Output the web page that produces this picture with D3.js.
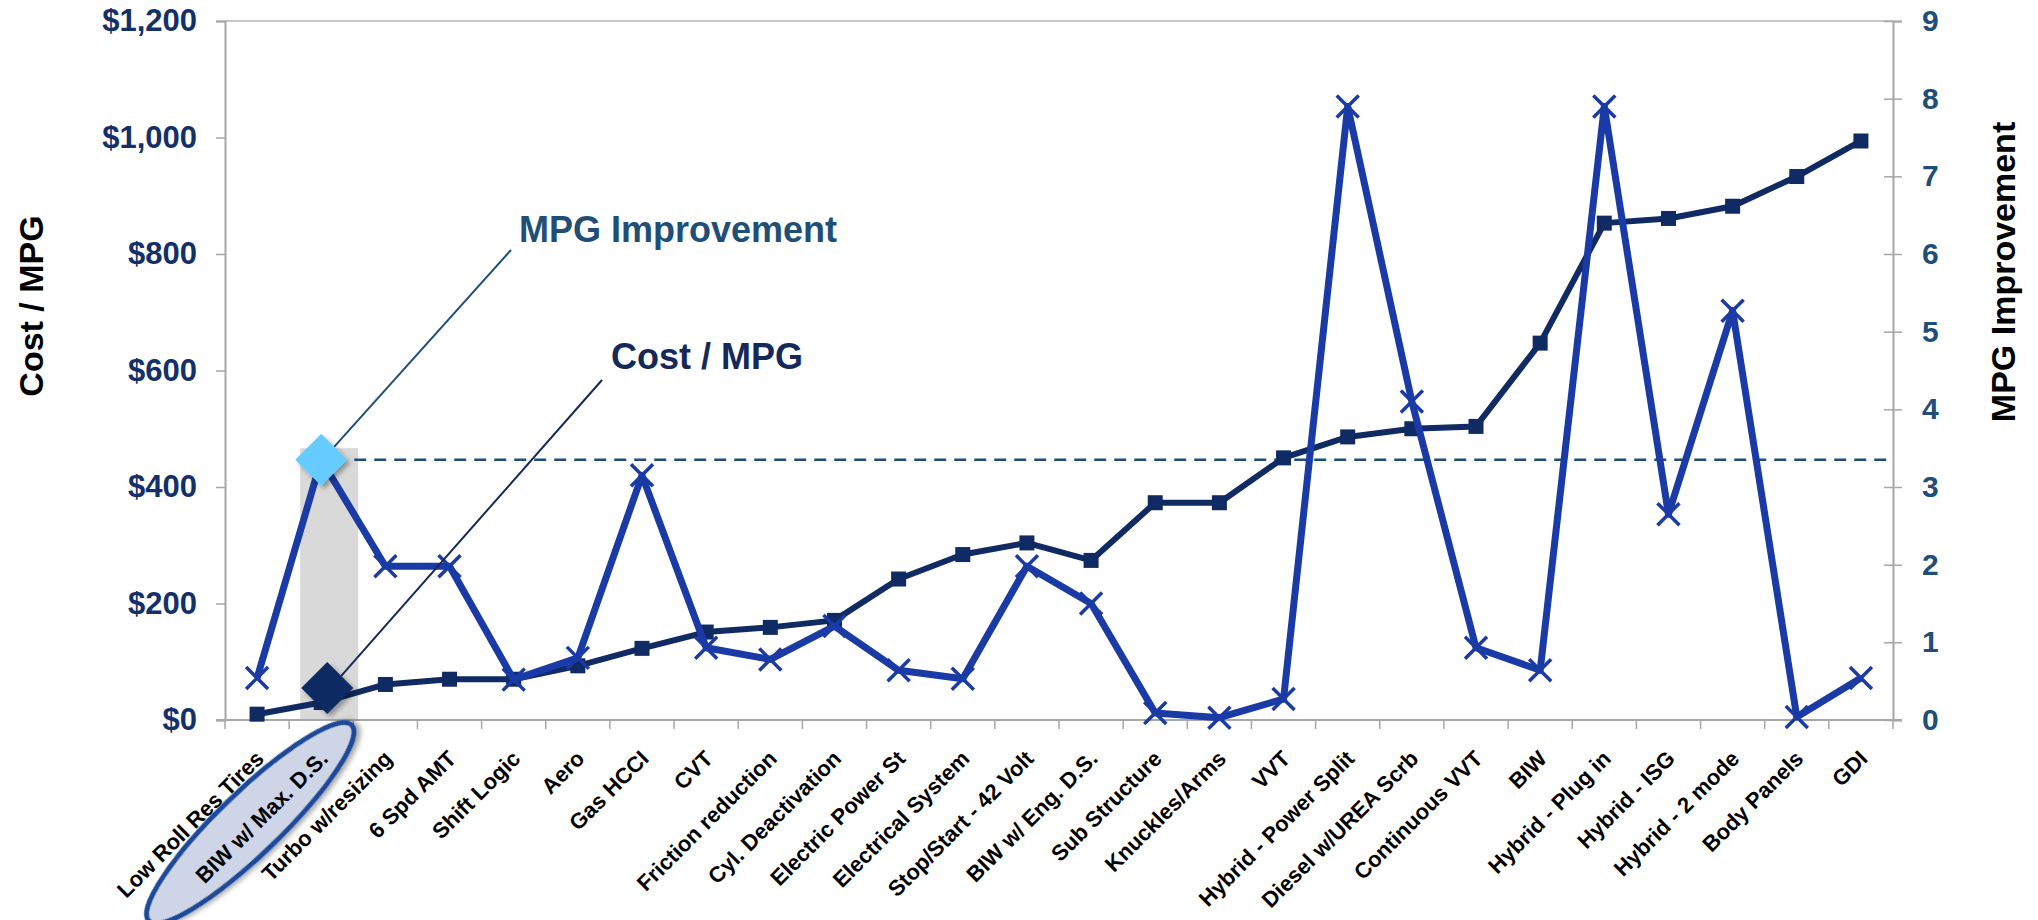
<!DOCTYPE html>
<html>
<head>
<meta charset="utf-8">
<script src="https://cdn.jsdelivr.net/npm/d3@7"></script>
<style>
  body { margin: 0; background: #fff; }
  svg { display: block; font-family: Arial, "Liberation Sans", sans-serif; font-weight: bold; }
</style>
</head>
<body>
<script>
// technologies, sorted by cost per mpg
const categories = [
  'Low Roll Res Tires', 'BIW w/ Max. D.S.', 'Turbo w/resizing', '6 Spd AMT', 'Shift Logic',
  'Aero', 'Gas HCCI', 'CVT', 'Friction reduction', 'Cyl. Deactivation',
  'Electric Power St', 'Electrical System', 'Stop/Start - 42 Volt', 'BIW w/ Eng. D.S.', 'Sub Structure',
  'Knuckles/Arms', 'VVT', 'Hybrid - Power Split', 'Diesel w/UREA Scrb', 'Continuous VVT',
  'BIW', 'Hybrid - Plug in', 'Hybrid - ISG', 'Hybrid - 2 mode', 'Body Panels', 'GDI',
];
const costPerMpg = [
  10, 30, 61, 70, 70, 93, 123, 151, 159, 171, 242, 284, 304,
  274, 373, 373, 450, 486, 500, 504, 647, 853, 861, 882, 933, 994,
];
const mpgImprovement = [
  0.54, 3.35, 1.98, 1.98, 0.52, 0.8, 3.15, 0.93, 0.78, 1.21, 0.64, 0.53, 1.98,
  1.5, 0.09, 0.03, 0.27, 7.9, 4.1, 0.93, 0.64, 7.9, 2.65, 5.27, 0.04, 0.54,
];
const costTicks = [0, 200, 400, 600, 800, 1000, 1200];
const mpgTicks = [0, 1, 2, 3, 4, 5, 6, 7, 8, 9];
const highlight = 'BIW w/ Max. D.S.';
const highlightCost = 55; // where the dark callout diamond sits

const width = 2038;
const height = 920;
const margin = { top: 21, right: 145, bottom: 200, left: 225 };

const svg = d3.select('body').append('svg')
  .attr('width', width)
  .attr('height', height);

const defs = svg.append('defs');
const shadow = defs.append('filter').attr('id', 'shadow')
  .attr('x', '-50%').attr('y', '-50%').attr('width', '200%').attr('height', '200%');
shadow.append('feDropShadow')
  .attr('dx', 3).attr('dy', 3).attr('stdDeviation', 2.5)
  .attr('flood-color', '#000').attr('flood-opacity', 0.35);

const x = d3.scaleBand()
  .domain(categories)
  .range([margin.left, width - margin.right]);

const yCost = d3.scaleLinear()
  .domain([0, 1200])
  .range([height - margin.bottom, margin.top]);

const yMpg = d3.scaleLinear()
  .domain([0, 9])
  .range([height - margin.bottom, margin.top]);

const cx = d => x(d) + x.bandwidth() / 2;
const x0 = margin.left;
const x1 = width - margin.right;
const yBottom = height - margin.bottom;

// grey highlight column
svg.append('rect')
  .attr('x', cx(highlight) - 21)
  .attr('y', yMpg(3.5))
  .attr('width', 58)
  .attr('height', yBottom - yMpg(3.5))
  .attr('fill', '#d9d9d9');

// frame: top line
svg.append('line')
  .attr('x1', x0).attr('x2', x1)
  .attr('y1', margin.top).attr('y2', margin.top)
  .attr('stroke', '#c6c6c6').attr('stroke-width', 2);

// left axis
svg.append('g')
  .attr('transform', `translate(${x0},0)`)
  .call(d3.axisLeft(yCost).tickValues(costTicks).tickSize(9).tickPadding(19)
    .tickFormat(d => `$${d3.format(',')(d)}`))
  .call(g => g.select('.domain').attr('stroke', '#a6a6a6').attr('stroke-width', 2))
  .call(g => g.selectAll('.tick line').attr('stroke', '#a6a6a6').attr('stroke-width', 1.5))
  .call(g => g.selectAll('.tick text')
    .attr('fill', '#13306b')
    .attr('font-size', 31)
    .attr('font-family', 'Arial, "Liberation Sans", sans-serif')
    .attr('font-weight', 'bold'));

// right axis
svg.append('g')
  .attr('transform', `translate(${x1},0)`)
  .call(d3.axisRight(yMpg).tickValues(mpgTicks).tickSize(9).tickPadding(20))
  .call(g => g.select('.domain').attr('stroke', '#a6a6a6').attr('stroke-width', 2))
  .call(g => g.selectAll('.tick line').attr('x1', -9).attr('stroke', '#a6a6a6').attr('stroke-width', 1.5))
  .call(g => g.selectAll('.tick text')
    .attr('fill', '#1f4e79')
    .attr('font-size', 30)
    .attr('font-family', 'Arial, "Liberation Sans", sans-serif')
    .attr('font-weight', 'bold'));

// bottom axis with ticks between categories
svg.append('line')
  .attr('x1', x0 - 9).attr('x2', x1 + 9)
  .attr('y1', yBottom).attr('y2', yBottom)
  .attr('stroke', '#a6a6a6').attr('stroke-width', 2);
svg.append('g')
  .selectAll('line')
  .data(categories.concat(['end']))
  .join('line')
  .attr('x1', (d, i) => (i < categories.length ? x(d) : x1))
  .attr('x2', (d, i) => (i < categories.length ? x(d) : x1))
  .attr('y1', yBottom)
  .attr('y2', yBottom + 9)
  .attr('stroke', '#a6a6a6')
  .attr('stroke-width', 1.5);

// ellipse round the highlighted label
svg.append('ellipse')
  .attr('transform', `translate(${cx(highlight) - 71},823) rotate(-44)`)
  .attr('rx', 141)
  .attr('ry', 31)
  .attr('fill', '#cdd5e6')
  .attr('stroke', '#1f4a9a')
  .attr('stroke-width', 5)
  .attr('filter', 'url(#shadow)');

// category labels
svg.append('g')
  .selectAll('text')
  .data(categories)
  .join('text')
  .attr('transform', d => `translate(${cx(d) + 8},760) rotate(-45)`)
  .attr('text-anchor', 'end')
  .attr('font-size', 22)
  .attr('fill', '#000')
  .text(d => d);

// axis titles
svg.append('text')
  .attr('transform', 'translate(43,306) rotate(-90)')
  .attr('text-anchor', 'middle')
  .attr('font-size', 34)
  .attr('fill', '#000')
  .text('Cost / MPG');

svg.append('text')
  .attr('transform', 'translate(2015,272) rotate(-90)')
  .attr('text-anchor', 'middle')
  .attr('font-size', 34)
  .attr('fill', '#000')
  .text('MPG Improvement');

// dashed reference at the highlighted mpg
const refMpg = mpgImprovement[categories.indexOf(highlight)];
svg.append('line')
  .attr('x1', cx(highlight) + 33)
  .attr('x2', x1)
  .attr('y1', yMpg(refMpg))
  .attr('y2', yMpg(refMpg))
  .attr('stroke', '#1f4e79')
  .attr('stroke-width', 2.5)
  .attr('stroke-dasharray', '12,8');

// cost / mpg line
svg.append('path')
  .datum(costPerMpg)
  .attr('fill', 'none')
  .attr('stroke', '#102a63')
  .attr('stroke-width', 6)
  .attr('stroke-linejoin', 'round')
  .attr('d', d3.line().x((d, i) => cx(categories[i])).y(d => yCost(d)));

svg.append('g')
  .selectAll('rect')
  .data(costPerMpg)
  .join('rect')
  .attr('x', (d, i) => cx(categories[i]) - 7.5)
  .attr('y', d => yCost(d) - 7.5)
  .attr('width', 15)
  .attr('height', 15)
  .attr('fill', '#102a63');

// mpg improvement line
svg.append('path')
  .datum(mpgImprovement)
  .attr('fill', 'none')
  .attr('stroke', '#1a3aa6')
  .attr('stroke-width', 7)
  .attr('stroke-linejoin', 'round')
  .attr('d', d3.line().x((d, i) => cx(categories[i])).y(d => yMpg(d)));

svg.append('g')
  .selectAll('path')
  .data(mpgImprovement)
  .join('path')
  .attr('transform', (d, i) => `translate(${cx(categories[i])},${yMpg(d)})`)
  .attr('d', 'M-11,-11L11,11M-11,11L11,-11')
  .attr('stroke', '#1a3aa6')
  .attr('stroke-width', 3.5)
  .attr('fill', 'none');

// callouts
const mx = cx(highlight);
const my = yMpg(refMpg);
const dy = yCost(highlightCost);

svg.append('line')
  .attr('x1', mx + 12).attr('y1', my - 12)
  .attr('x2', 511).attr('y2', 250)
  .attr('stroke', '#1f4e79').attr('stroke-width', 2);
svg.append('line')
  .attr('x1', mx + 20).attr('y1', dy - 12)
  .attr('x2', 602).attr('y2', 380)
  .attr('stroke', '#14285a').attr('stroke-width', 2);

svg.append('path')
  .attr('transform', `translate(${mx},${my})`)
  .attr('d', 'M0,-26L26,0L0,26L-26,0Z')
  .attr('fill', '#66ccff')
  .attr('filter', 'url(#shadow)');

svg.append('path')
  .attr('transform', `translate(${mx + 6},${dy})`)
  .attr('d', 'M0,-26L26,0L0,26L-26,0Z')
  .attr('fill', '#102a63')
  .attr('filter', 'url(#shadow)');

svg.append('text')
  .attr('x', 519).attr('y', 242)
  .attr('font-size', 36)
  .attr('fill', '#1f4e79')
  .text('MPG Improvement');

svg.append('text')
  .attr('x', 611).attr('y', 369)
  .attr('font-size', 36)
  .attr('fill', '#14285a')
  .text('Cost / MPG');
</script>
</body>
</html>
